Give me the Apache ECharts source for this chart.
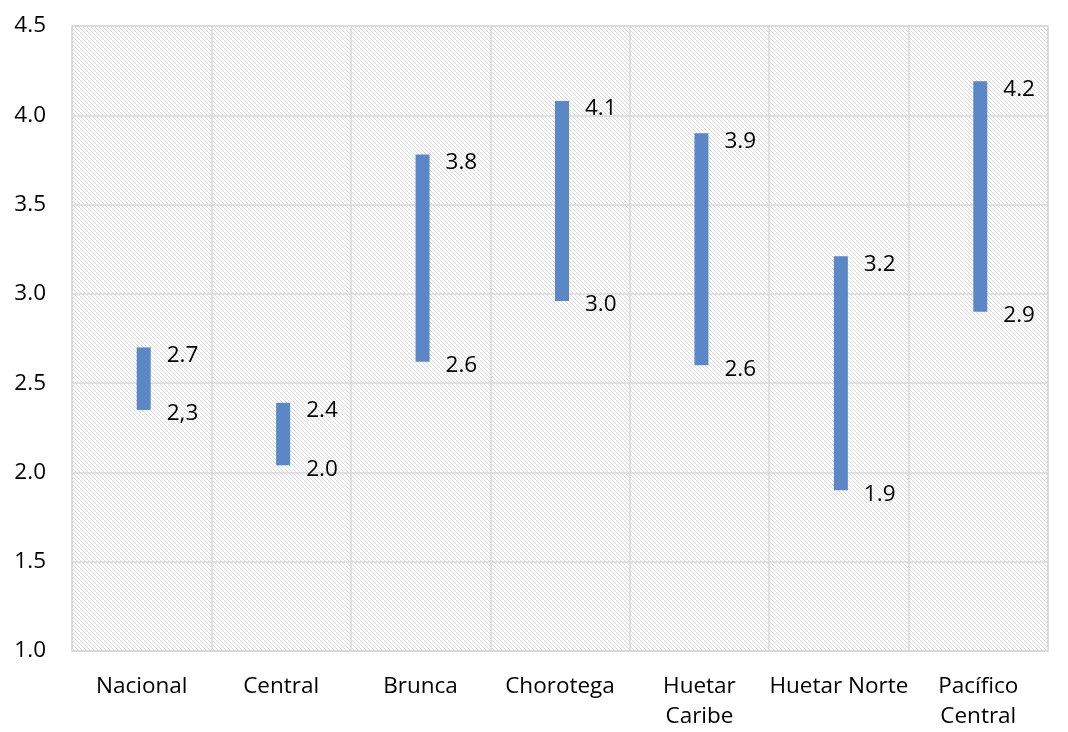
<!DOCTYPE html>
<html>
<head>
<meta charset="utf-8">
<script src="https://cdn.jsdelivr.net/npm/echarts@6/dist/echarts.min.js"></script>
<style>
  html, body { margin: 0; padding: 0; background: #fff; }
  #chart { width: 1068px; height: 732px; }
</style>
</head>
<body>
<div id="chart"></div>
<script>
const regions = ['Nacional', 'Central', 'Brunca', 'Chorotega', 'Huetar\nCaribe', 'Huetar Norte', 'Pacífico\nCentral'];
const lowValues = [2.35, 2.04, 2.62, 2.96, 2.6, 1.9, 2.9];
const highValues = [2.7, 2.39, 3.78, 4.08, 3.9, 3.21, 4.19];
const lowLabels = ['2,3', '2.0', '2.6', '3.0', '2.6', '1.9', '2.9'];
const highLabels = ['2.7', '2.4', '3.8', '4.1', '3.9', '3.2', '4.2'];

// diagonal hatch for the plot area, one pixel per row
function hatch() {
  const c = document.createElement('canvas');
  c.width = 4;
  c.height = 4;
  const ctx = c.getContext('2d');
  ctx.fillStyle = '#ffffff';
  ctx.fillRect(0, 0, 4, 4);
  ctx.fillStyle = '#d9d9d9';
  for (let i = 0; i < 4; i++) {
    ctx.fillRect(i, i, 1, 1);
  }
  return c;
}

const font = '"Open Sans", Lato, sans-serif';
const chart = echarts.init(document.getElementById('chart'));

const option = {
  animation: false,
  grid: {
    left: 72,
    right: 20,
    top: 26,
    bottom: 78,
    show: true,
    backgroundColor: { image: hatch(), repeat: 'repeat' },
    borderColor: '#d9d9d9',
    borderWidth: 1.5,
  },
  xAxis: {
    type: 'category',
    data: regions,
    axisLine: { show: true, lineStyle: { color: '#d9d9d9', width: 1.5 } },
    axisTick: { show: false },
    axisLabel: {
      color: '#000',
      fontFamily: font,
      fontSize: 22.5,
      margin: 21,
      lineHeight: 30,
      interval: 0,
    },
    splitLine: { show: true, lineStyle: { color: '#d9d9d9', width: 1.5 } },
  },
  yAxis: {
    type: 'value',
    min: 1,
    max: 4.5,
    interval: 0.5,
    axisLine: { show: false },
    axisTick: { show: false },
    axisLabel: {
      color: '#000',
      fontFamily: font,
      fontSize: 22.5,
      margin: 26,
      formatter: v => v.toFixed(1),
    },
    splitLine: { lineStyle: { color: '#d9d9d9', width: 1.5 } },
  },
  series: [
    {
      type: 'custom',
      renderItem: (params, api) => {
        const lo = api.coord([api.value(0), api.value(1)]);
        const hi = api.coord([api.value(0), api.value(2)]);
        const w = 14;
        const x = lo[0] + 2;
        const i = params.dataIndex;
        const textStyle = { fill: '#000', fontFamily: font, fontSize: 22.5 };
        return {
          type: 'group',
          children: [
            {
              type: 'rect',
              shape: { x: x - w / 2, y: hi[1], width: w, height: lo[1] - hi[1] },
              style: { fill: '#5b87c6' },
            },
            {
              type: 'text',
              style: Object.assign({ text: highLabels[i], x: x + w / 2 + 16, y: hi[1] + 8, verticalAlign: 'middle' }, textStyle),
            },
            {
              type: 'text',
              style: Object.assign({ text: lowLabels[i], x: x + w / 2 + 16, y: lo[1] + 4, verticalAlign: 'middle' }, textStyle),
            },
          ],
        };
      },
      encode: { x: 0, y: [1, 2] },
      data: regions.map((r, i) => [i, lowValues[i], highValues[i]]),
    },
  ],
};

chart.setOption(option);
</script>
</body>
</html>
